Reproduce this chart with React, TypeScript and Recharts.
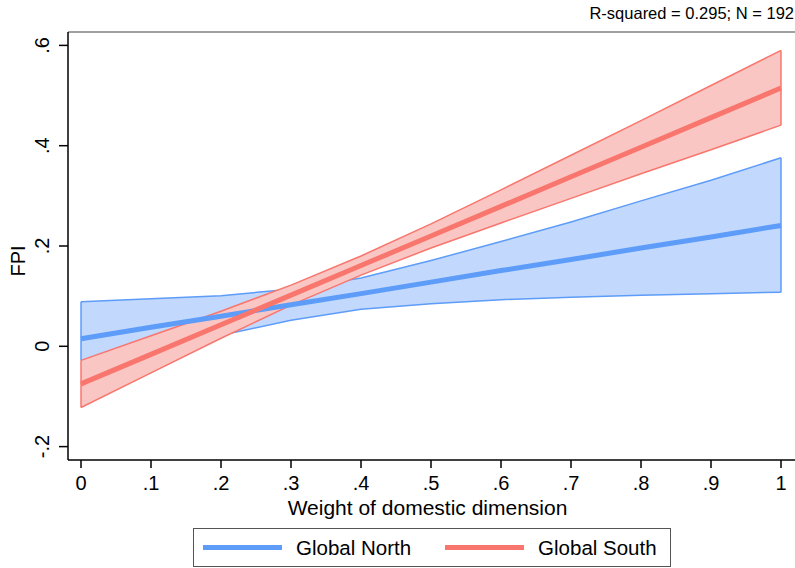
import { ComposedChart, Area, Line, XAxis, YAxis, ReferenceLine } from "recharts"

const weights = [0, 0.1, 0.2, 0.3, 0.4, 0.5, 0.6, 0.7, 0.8, 0.9, 1]
const northFit = [0.015, 0.038, 0.06, 0.083, 0.105, 0.128, 0.151, 0.173, 0.196, 0.218, 0.241]
const northLo = [-0.059, -0.019, 0.022, 0.052, 0.074, 0.085, 0.093, 0.098, 0.102, 0.105, 0.108]
const northHi = [0.089, 0.095, 0.101, 0.114, 0.136, 0.171, 0.209, 0.248, 0.29, 0.331, 0.376]
const southFit = [-0.075, -0.016, 0.043, 0.102, 0.161, 0.22, 0.279, 0.338, 0.397, 0.456, 0.515]
const southLo = [-0.122, -0.053, 0.016, 0.082, 0.142, 0.196, 0.246, 0.295, 0.344, 0.392, 0.441]
const southHi = [-0.028, 0.021, 0.07, 0.122, 0.18, 0.244, 0.312, 0.381, 0.45, 0.52, 0.59]

const xTicks = [0, 0.1, 0.2, 0.3, 0.4, 0.5, 0.6, 0.7, 0.8, 0.9, 1]
const yTicks = [-0.2, 0, 0.2, 0.4, 0.6]
const seriesNames = ["Global North", "Global South"]

const BLUE = "#5d9cf8"
const BLUE_FILL = "#c2d8fc"
const RED = "#f8766d"
const RED_FILL = "#fac6c3"
const FONT = "'Liberation Sans', Arial, sans-serif"

const data = weights.map((w, i) => ({
  w,
  north: northFit[i],
  northBand: [northLo[i], northHi[i]],
  south: southFit[i],
  southBand: [southLo[i], southHi[i]],
}))

const fmt = (v: number) => {
  if (v === 0) return "0"
  if (v === 1) return "1"
  return v.toFixed(1).replace("0.", ".")
}

const YTick = (props: any) => {
  const { x, y, payload } = props
  return (
    <text x={x - 8} y={y} transform={`rotate(-90 ${x - 8} ${y})`} textAnchor="middle" fontSize={20} fontFamily={FONT} fill="#000">
      {fmt(payload.value)}
    </text>
  )
}

const XTick = (props: any) => {
  const { x, y, payload } = props
  return (
    <text x={x} y={y + 20} textAnchor="middle" fontSize={20} fontFamily={FONT} fill="#000">
      {fmt(payload.value)}
    </text>
  )
}

const LegendBox = () => (
  <div
    style={{
      position: "absolute",
      left: 193,
      top: 528,
      width: 476,
      height: 37,
      border: "1px solid #555",
      display: "flex",
      alignItems: "center",
      fontFamily: FONT,
      fontSize: 20.5,
      background: "#fff",
    }}
  >
    {seriesNames.map((name, i) => (
      <div key={name} style={{ display: "flex", alignItems: "center", marginLeft: i === 0 ? 9 : 34 }}>
        <div style={{ width: 79, height: 5, background: i === 0 ? BLUE : RED }} />
        <span style={{ marginLeft: 14 }}>{name}</span>
      </div>
    ))}
  </div>
)

export default function App() {
  return (
    <div style={{ position: "absolute", left: 0, top: 0, width: 795, height: 568, background: "#fff", overflow: "hidden" }}>
      <div style={{ position: "absolute", right: 1, top: 4, fontFamily: FONT, fontSize: 16.5, color: "#000", zIndex: 2 }}>
        R-squared = 0.295; N = 192
      </div>
      <ComposedChart width={795} height={568} data={data} margin={{ top: 32, right: 0, left: 8, bottom: 48 }}>
        <XAxis
          dataKey="w"
          type="number"
          domain={[-13 / 700, 1 + 14 / 700]}
          ticks={xTicks}
          tick={<XTick />}
          tickLine={{ stroke: "#000", strokeWidth: 1.5 }}
          tickSize={8}
          axisLine={{ stroke: "#000", strokeWidth: 1.5 }}
          height={60}
          allowDataOverflow
          label={{
            content: (p: any) => (
              <text x={p.viewBox.x + p.viewBox.width / 2 - 4} y={p.viewBox.y + 55} textAnchor="middle" fontSize={21} fontFamily={FONT} fill="#000">
                Weight of domestic dimension
              </text>
            ),
          }}
        />
        <YAxis
          type="number"
          domain={[-0.2267, 0.6267]}
          ticks={yTicks}
          tick={<YTick />}
          tickLine={{ stroke: "#000", strokeWidth: 1.5 }}
          tickSize={9}
          axisLine={{ stroke: "#000", strokeWidth: 1.5 }}
          width={60}
          allowDataOverflow
          label={{
            content: (p: any) => {
              const cx = 18
              const cy = p.viewBox.y + p.viewBox.height / 2 + 15
              return (
                <text x={cx} y={cy} transform={`rotate(-90 ${cx} ${cy})`} textAnchor="middle" dominantBaseline="central" fontSize={20} fontFamily={FONT} fill="#000">
                  FPI
                </text>
              )
            },
          }}
        />
        <ReferenceLine y={0.6267} stroke="#444" strokeWidth={1.2} ifOverflow="visible" />
        <Area dataKey="northBand" type="linear" stroke={BLUE} strokeWidth={1.5} fill={BLUE_FILL} fillOpacity={1} isAnimationActive={false} activeDot={false} />
        <Area dataKey="southBand" type="linear" stroke={RED} strokeWidth={1.5} fill={RED_FILL} fillOpacity={1} isAnimationActive={false} activeDot={false} />
        <ReferenceLine segment={[{ x: 1, y: northLo[10] }, { x: 1, y: northHi[10] }]} stroke={BLUE} strokeWidth={1.5} />
        <ReferenceLine segment={[{ x: 1, y: southLo[10] }, { x: 1, y: southHi[10] }]} stroke={RED} strokeWidth={1.5} />
        <ReferenceLine segment={[{ x: 0, y: southLo[0] }, { x: 0, y: southHi[0] }]} stroke={RED} strokeWidth={1.5} />
        <ReferenceLine segment={[{ x: 0, y: southHi[0] }, { x: 0, y: northHi[0] }]} stroke={BLUE} strokeWidth={1.5} />
        <Line dataKey="north" type="linear" stroke={BLUE} strokeWidth={5} dot={false} activeDot={false} isAnimationActive={false} />
        <Line dataKey="south" type="linear" stroke={RED} strokeWidth={5} dot={false} activeDot={false} isAnimationActive={false} />
      </ComposedChart>
      <LegendBox />
    </div>
  )
}
